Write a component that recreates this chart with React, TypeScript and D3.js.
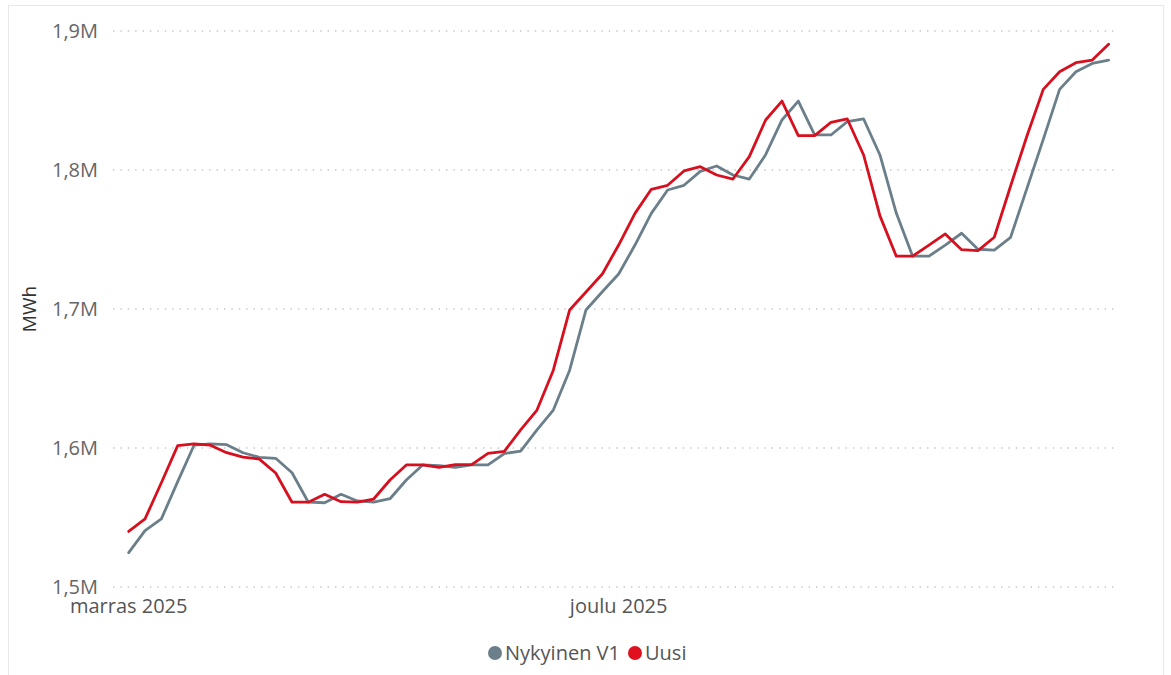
import React from "react";
import * as d3 from "d3";

const startDate = new Date(2025, 10, 1);
const endDate = new Date(2025, 11, 31);
const dates: Date[] = d3.timeDay.range(startDate, d3.timeDay.offset(endDate, 1));

const seriesNames = ["Nykyinen V1", "Uusi"];

const nykyinen: number[] = [
  1.5247, 1.5405, 1.549, 1.5758, 1.602, 1.603, 1.6024, 1.5966, 1.5933, 1.5926,
  1.5822, 1.561, 1.5606, 1.5667, 1.5619, 1.561, 1.5635, 1.577, 1.5878, 1.5873,
  1.586, 1.5878, 1.5878, 1.596, 1.5978, 1.613, 1.6273, 1.656, 1.6993, 1.7124,
  1.7252, 1.746, 1.7688, 1.7856, 1.789, 1.799, 1.8029, 1.7964, 1.7935, 1.811,
  1.836, 1.8496, 1.8252, 1.8252, 1.8348, 1.8367, 1.8108, 1.769, 1.738, 1.738,
  1.746, 1.7545, 1.743, 1.7424, 1.7516, 1.7868, 1.822, 1.858, 1.8707, 1.8767,
  1.8791,
].map((v) => v * 1e6);

const uusi: number[] = [
  1.54, 1.549, 1.575, 1.6017, 1.603, 1.602, 1.5966, 1.5935, 1.592, 1.582,
  1.561, 1.561, 1.5667, 1.5614, 1.561, 1.5633, 1.577, 1.5878, 1.5878, 1.586,
  1.588, 1.588, 1.5962, 1.5976, 1.613, 1.6273, 1.656, 1.6993, 1.7122, 1.7252,
  1.746, 1.7688, 1.7861, 1.789, 1.7993, 1.8024, 1.7964, 1.7935, 1.8096, 1.836,
  1.8496, 1.8247, 1.8247, 1.8343, 1.8367, 1.8108, 1.767, 1.738, 1.738, 1.746,
  1.754, 1.7427, 1.742, 1.7516, 1.7885, 1.8245, 1.858, 1.8707, 1.8772, 1.8791,
  1.8904,
].map((v) => v * 1e6);

const yTicks: number[] = [1.5e6, 1.6e6, 1.7e6, 1.8e6, 1.9e6];
const xTicks: Date[] = [new Date(2025, 10, 1), new Date(2025, 11, 1)];
const xTickLabels: string[] = ["marras 2025", "joulu 2025"];
const yTitle = "MWh";

const colors = ["#6B7F8B", "#D7101F"];
const FONT = "'Segoe UI', 'Open Sans', 'Noto Sans', sans-serif";

export default function App() {
  const W = 1171;
  const H = 675;
  const x = d3.scaleTime().domain([startDate, endDate]).range([128.7, 1108.6]);
  const y = d3.scaleLinear().domain([1.5e6, 1.9e6]).range([587, 31]);
  const fmt = (v: number) => d3.format(".1f")(v / 1e6).replace(".", ",") + "M";

  const line = d3
    .line<number>()
    .x((_, i) => x(dates[i]))
    .y((d) => y(d));

  const series = [nykyinen, uusi];

  return (
    <svg
      width={W}
      height={H}
      style={{ position: "fixed", left: 0, top: 0, background: "#fff" }}
      fontFamily={FONT}
    >
      <rect x={8.5} y={5.5} width={1155} height={700} fill="#fff" stroke="#e8e8e8" strokeWidth={1} />
      {yTicks.map((t) => (
        <g key={t}>
          <line
            x1={113}
            x2={1119}
            y1={y(t)}
            y2={y(t)}
            stroke="#c6c6c6"
            strokeWidth={1.6}
            strokeDasharray="1.4 6"
          />
          <text
            x={98}
            y={y(t)}
            dy="0.35em"
            textAnchor="end"
            fontSize={20}
            fill="#666"
          >
            {fmt(t)}
          </text>
        </g>
      ))}
      {xTicks.map((t, i) => (
        <text key={i} x={x(t)} y={613} textAnchor="middle" fontSize={20} fill="#555">
          {xTickLabels[i]}
        </text>
      ))}
      <text
        transform={`translate(36, ${(y(1.5e6) + y(1.9e6)) / 2}) rotate(-90)`}
        textAnchor="middle"
        fontSize={19}
        fill="#333"
      >
        {yTitle}
      </text>
      {series.map((s, i) => (
        <path
          key={i}
          d={line(s) || ""}
          fill="none"
          stroke={colors[i]}
          strokeWidth={2.8}
          strokeLinejoin="round"
          strokeLinecap="round"
        />
      ))}
      <g>
        <circle cx={495} cy={653} r={7} fill={colors[0]} />
        <text x={505} y={653} dy="0.35em" fontSize={20} fill="#555">
          {seriesNames[0]}
        </text>
        <circle cx={635} cy={653} r={7} fill="#E0101E" />
        <text x={645} y={653} dy="0.35em" fontSize={20} fill="#555">
          {seriesNames[1]}
        </text>
      </g>
    </svg>
  );
}
